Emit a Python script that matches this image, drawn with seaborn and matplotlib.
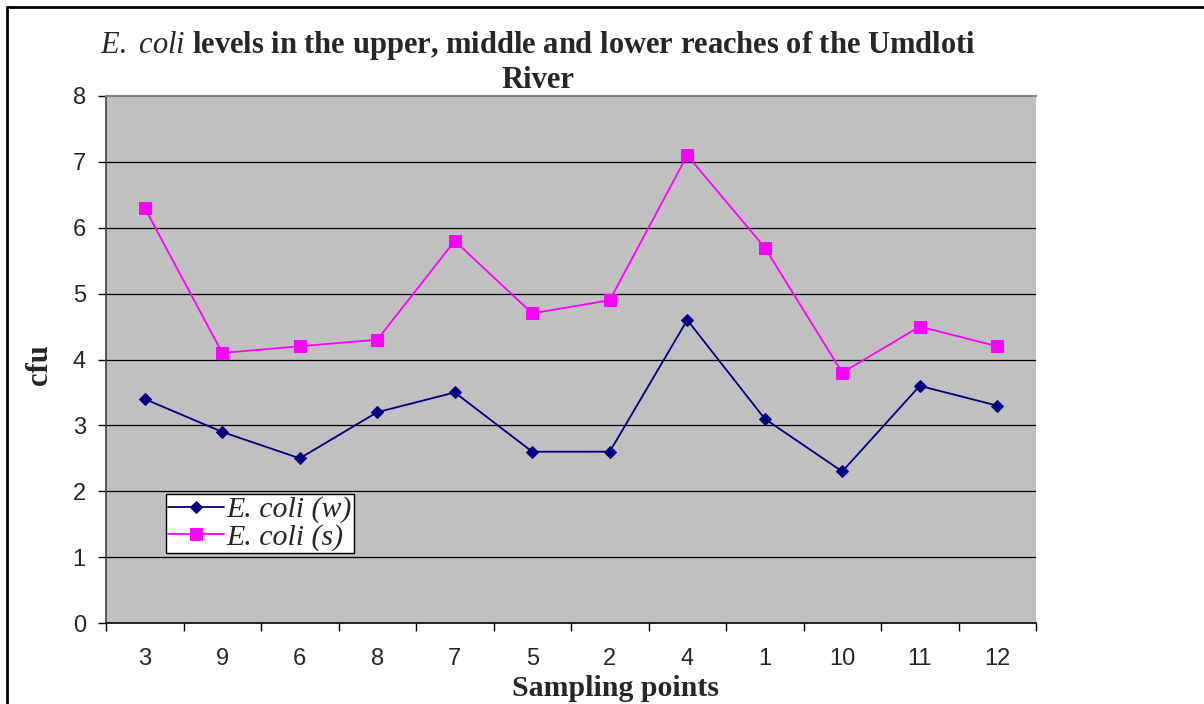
import matplotlib
matplotlib.use("Agg")
import matplotlib.pyplot as plt
from matplotlib.lines import Line2D
import pandas as pd
import seaborn as sns

# Sampling points in the order they appear along the x axis
points = ["3", "9", "6", "8", "7", "5", "2", "4", "1", "10", "11", "12"]
ecoli_w = [3.4, 2.9, 2.5, 3.2, 3.5, 2.6, 2.6, 4.6, 3.1, 2.3, 3.6, 3.3]
ecoli_s = [6.3, 4.1, 4.2, 4.3, 5.8, 4.7, 4.9, 7.1, 5.7, 3.8, 4.5, 4.2]
y_ticks = [0, 1, 2, 3, 4, 5, 6, 7, 8]

sns.set_style("white")
plt.rcParams["font.family"] = ["Liberation Sans", "DejaVu Sans"]
plt.rcParams["mathtext.fontset"] = "custom"
plt.rcParams["mathtext.it"] = "Liberation Serif:italic"
plt.rcParams["mathtext.rm"] = "Liberation Serif"

df_w = pd.DataFrame({"point": points, "cfu": ecoli_w})
df_s = pd.DataFrame({"point": points, "cfu": ecoli_s})

fig = plt.figure(figsize=(12.04, 7.04), dpi=100)
ax = fig.add_axes([106 / 1204, 1 - 623 / 704, 930 / 1204, 527 / 704])
ax.set_facecolor("#c0c0c0")

sns.lineplot(data=df_w, x="point", y="cfu", ax=ax, color="#000080", marker="D",
             markersize=6, markeredgecolor="#000080", linewidth=1.3, sort=False,
             label="E. coli (w)", zorder=3)
sns.lineplot(data=df_s, x="point", y="cfu", ax=ax, color="#ff00ff", marker="s",
             markersize=9, markeredgecolor="#ff00ff", linewidth=1.3, sort=False,
             label="E. coli (s)", zorder=3)

ax.set_xlim(-0.5, len(points) - 0.5)
ax.set_ylim(0, 8)
ax.set_yticks(y_ticks)
ax.set_xticks(range(len(points)))
ax.set_xticklabels(points)
ax.set_xticks([i - 0.5 for i in range(len(points) + 1)], minor=True)
ax.tick_params(axis="x", which="major", length=0, pad=18, labelsize=17)
ax.tick_params(axis="x", which="minor", length=6, width=1, color="black", direction="out")
ax.tick_params(axis="y", length=6, width=1, color="black", direction="out", pad=8.5, labelsize=17)
ax.tick_params(bottom=True, left=True, which="both")

for v in y_ticks[1:-1]:
    ax.axhline(v, color="black", linewidth=0.9, zorder=1)

ax.spines["top"].set_color("#808080")
ax.spines["top"].set_linewidth(1.5)
ax.spines["right"].set_visible(False)
ax.spines["left"].set_color("#404040")
ax.spines["bottom"].set_color("black")
ax.spines["left"].set_linewidth(1.2)
ax.spines["bottom"].set_linewidth(1.2)

ax.set_xlabel("")
ax.set_ylabel("")

leg = ax.legend(loc="lower left", bbox_to_anchor=(60 / 930, 70 / 527), borderaxespad=0,
                prop={"family": "Liberation Serif", "style": "italic", "size": 21.5},
                frameon=True, fancybox=False, framealpha=1, edgecolor="black",
                handlelength=1.85, handletextpad=0.1, labelspacing=0.0,
                borderpad=0.08)
leg.get_frame().set_linewidth(1)

# Title, axis labels (serif bold, like the original)
fig.text(538 / 1204, 1 - 45 / 704,
         r"$\mathit{E.}$ $\mathit{coli}$ levels in the upper, middle and lower reaches of the Umdloti",
         ha="center", va="center", fontsize=22, fontweight="bold", family="Liberation Serif")
fig.text(538 / 1204, 1 - 80 / 704, "River", ha="center", va="center",
         fontsize=22, fontweight="bold", family="Liberation Serif")
fig.text(616 / 1204, 1 - 688 / 704, "Sampling points", ha="center", va="center",
         fontsize=21.5, fontweight="bold", family="Liberation Serif")
fig.text(40 / 1204, 1 - 365 / 704, "cfu", ha="center", va="center", rotation=90,
         fontsize=22, fontweight="bold", family="Liberation Serif")

# outer frame of the chart object
fig.add_artist(Line2D([7 / 1204, 7 / 1204], [0, 1 - 7 / 704], color="black", linewidth=2,
                      transform=fig.transFigure))
fig.add_artist(Line2D([7 / 1204, 1], [1 - 7 / 704, 1 - 7 / 704], color="black", linewidth=2,
                      transform=fig.transFigure))

fig.savefig("out.png", dpi=100)
